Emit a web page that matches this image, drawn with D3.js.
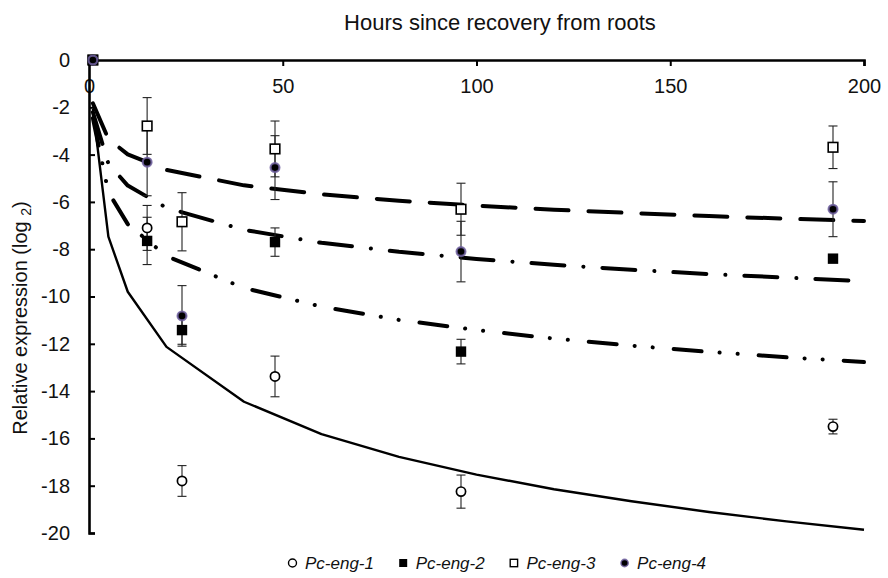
<!DOCTYPE html>
<html>
<head>
<meta charset="utf-8">
<script src="https://cdn.jsdelivr.net/npm/d3@7"></script>
<style>
  html, body { margin: 0; padding: 0; background: #fff; }
  svg { display: block; }
  text { font-family: "Liberation Sans", Arial, sans-serif; }
</style>
</head>
<body>
<svg id="chart" width="888" height="578"></svg>
<script>
// ---------- data ----------
const hours = [1, 15, 24, 48, 96, 192];

const eng1 = [0, -7.10, -17.80, -13.38, -18.25, -15.50];
const eng1Err = [0, 0.95, 0.65, 0.86, 0.70, 0.31];

const eng2 = [0, -7.65, -11.42, -7.70, -12.33, -8.40];
const eng2Err = [0, 1.00, 0.60, 0.60, 0.52, 0];

const eng3 = [0, -2.79, -6.84, -3.76, -6.31, -3.69];
const eng3Err = [0, 1.20, 1.23, 1.18, 1.10, 0.90];

const eng4 = [0, -4.32, -10.82, -4.55, -8.10, -6.31];
const eng4Err = [0, 1.42, 1.28, 1.35, 1.28, 1.16];

// fitted curves
const fitHours = [1, 5, 10, 20, 40, 60, 80, 100, 120, 140, 160, 180, 200];
const fitEng1 = [-2.06, -7.47, -9.80, -12.13, -14.45, -15.82, -16.78, -17.53, -18.15, -18.66, -19.11, -19.51, -19.86];
const fitEng3 = [-1.83, -3.34, -3.99, -4.65, -5.30, -5.68, -5.95, -6.16, -6.33, -6.47, -6.60, -6.71, -6.81];
const fitEng4 = [-2.21, -4.38, -5.31, -6.25, -7.18, -7.73, -8.11, -8.41, -8.66, -8.87, -9.05, -9.20, -9.35];
const fitEng2 = [-2.46, -5.59, -6.94, -8.29, -9.64, -10.43, -10.99, -11.42, -11.78, -12.08, -12.34, -12.57, -12.77];

const xTicks = [0, 50, 100, 150, 200];
const yTicks = [0, -2, -4, -6, -8, -10, -12, -14, -16, -18, -20];
const seriesNames = ["Pc-eng-1", "Pc-eng-2", "Pc-eng-3", "Pc-eng-4"];
const xTitle = "Hours since recovery from roots";
const yTitle = "Relative expression (log ";
const yTitleSub = "2";

(function () {
// ---------- layout ----------
const svg = d3.select("#chart");
const mLeft = 89, mRight = 864, mTop = 60, mBottom = 533;
const x = d3.scaleLinear().domain([0, 200]).range([mLeft, mRight]);
const y = d3.scaleLinear().domain([0, -20]).range([mTop, mBottom]);

// title
svg.append("text")
  .attr("x", 500).attr("y", 30)
  .attr("text-anchor", "middle")
  .attr("font-size", 22).attr("fill", "#111")
  .text(xTitle);

// y title
const yt = svg.append("text")
  .attr("transform", "translate(27,318) rotate(-90)")
  .attr("text-anchor", "middle")
  .attr("font-size", 20).attr("fill", "#111");
yt.append("tspan").text(yTitle);
yt.append("tspan").attr("font-size", 14).attr("dy", 4).text(yTitleSub);
yt.append("tspan").attr("dy", -4).text(")");

// axes
const xAxis = svg.append("g")
  .attr("transform", `translate(0,${mTop})`)
  .call(d3.axisBottom(x).tickValues(xTicks).tickFormat(d => String(d))
    .tickSizeInner(6).tickSizeOuter(6).tickPadding(13));
const yAxis = svg.append("g")
  .attr("transform", `translate(${mLeft},0)`)
  .call(d3.axisLeft(y).tickValues(yTicks).tickFormat(d => String(d))
    .tickSizeInner(-6).tickSizeOuter(-6).tickPadding(19));
[xAxis, yAxis].forEach(g => {
  g.select(".domain").attr("stroke", "#000").attr("stroke-width", 2.6);
  g.selectAll(".tick line").attr("stroke", "#000").attr("stroke-width", 2);
  g.selectAll(".tick text").attr("font-size", 20).attr("fill", "#111")
    .attr("font-family", "Liberation Sans, Arial, sans-serif");
});

// fitted lines
const line = d3.line().x(d => x(d[0])).y(d => y(d[1]));
const fits = [
  { v: fitEng1, dash: null, w: 2.4 },
  { v: fitEng2, dash: "28,18,0.1,18,0.1,21", w: 4 },
  { v: fitEng4, dash: "33,19,0.1,19", w: 4 },
  { v: fitEng3, dash: "33,20", w: 4 }
];
fits.forEach(f => {
  svg.append("path")
    .datum(fitHours.map((h, i) => [h, f.v[i]]))
    .attr("d", line)
    .attr("fill", "none")
    .attr("stroke", "#000")
    .attr("stroke-width", f.w)
    .attr("stroke-linecap", f.dash ? "round" : "butt")
    .attr("stroke-linejoin", "round")
    .attr("stroke-dasharray", f.dash);
});

// error bars
const series = [
  { name: seriesNames[0], v: eng1, e: eng1Err, type: "openCircle" },
  { name: seriesNames[2], v: eng3, e: eng3Err, type: "openSquare" },
  { name: seriesNames[1], v: eng2, e: eng2Err, type: "filledSquare" },
  { name: seriesNames[3], v: eng4, e: eng4Err, type: "purpleCircle" }
];
const errG = svg.append("g").attr("stroke", "#222").attr("stroke-width", 1.1);
series.forEach(s => {
  hours.forEach((h, i) => {
    const err = s.e[i];
    if (!err) return;
    const cx = x(h), y1 = y(s.v[i] + err), y2 = y(s.v[i] - err);
    errG.append("line").attr("x1", cx).attr("x2", cx).attr("y1", y1).attr("y2", y2);
    errG.append("line").attr("x1", cx - 4.5).attr("x2", cx + 4.5).attr("y1", y1).attr("y2", y1);
    errG.append("line").attr("x1", cx - 4.5).attr("x2", cx + 4.5).attr("y1", y2).attr("y2", y2);
  });
});

// markers
function drawMarker(g, type, cx, cy) {
  if (type === "openCircle") {
    g.append("circle").attr("cx", cx).attr("cy", cy).attr("r", 4.6)
      .attr("fill", "#fff").attr("stroke", "#000").attr("stroke-width", 1.7);
  } else if (type === "openSquare") {
    g.append("rect").attr("x", cx - 4.8).attr("y", cy - 4.8).attr("width", 9.6).attr("height", 9.6)
      .attr("fill", "#fff").attr("stroke", "#000").attr("stroke-width", 1.6);
  } else if (type === "filledSquare") {
    g.append("rect").attr("x", cx - 5.2).attr("y", cy - 5.2).attr("width", 10.4).attr("height", 10.4)
      .attr("fill", "#000");
  } else {
    g.append("circle").attr("cx", cx).attr("cy", cy).attr("r", 4.4)
      .attr("fill", "#000").attr("stroke", "#6f5f9f").attr("stroke-opacity", 0.85).attr("stroke-width", 2.2);
  }
}
const mg = svg.append("g");
series.forEach(s => {
  hours.forEach((h, i) => drawMarker(mg, s.type, x(h), y(s.v[i])));
});

// legend
const legendOrder = [
  { name: seriesNames[0], type: "openCircle" },
  { name: seriesNames[1], type: "filledSquare" },
  { name: seriesNames[2], type: "openSquare" },
  { name: seriesNames[3], type: "purpleCircle" }
];
const lg = svg.append("g");
const legendStart = 292.5, legendStep = 110.7, legendY = 563;
legendOrder.forEach((d, i) => {
  const cx = legendStart + i * legendStep;
  const g = lg.append("g");
  if (d.type === "openCircle") {
    g.append("circle").attr("cx", cx).attr("cy", legendY).attr("r", 4)
      .attr("fill", "#fff").attr("stroke", "#000").attr("stroke-width", 1.4);
  } else if (d.type === "openSquare") {
    g.append("rect").attr("x", cx - 3.7).attr("y", legendY - 3.7).attr("width", 7.4).attr("height", 7.4)
      .attr("fill", "#fff").attr("stroke", "#000").attr("stroke-width", 1.4);
  } else if (d.type === "filledSquare") {
    g.append("rect").attr("x", cx - 4).attr("y", legendY - 4).attr("width", 8).attr("height", 8)
      .attr("fill", "#000");
  } else {
    g.append("circle").attr("cx", cx).attr("cy", legendY).attr("r", 3.6)
      .attr("fill", "#000").attr("stroke", "#6f5f9f").attr("stroke-opacity", 0.85).attr("stroke-width", 1.6);
  }
  g.append("text").attr("x", cx + 12.5).attr("y", legendY + 5.5)
    .attr("font-size", 17).attr("font-style", "italic").attr("fill", "#111")
    .text(d.name);
});
})();
</script>
</body>
</html>
